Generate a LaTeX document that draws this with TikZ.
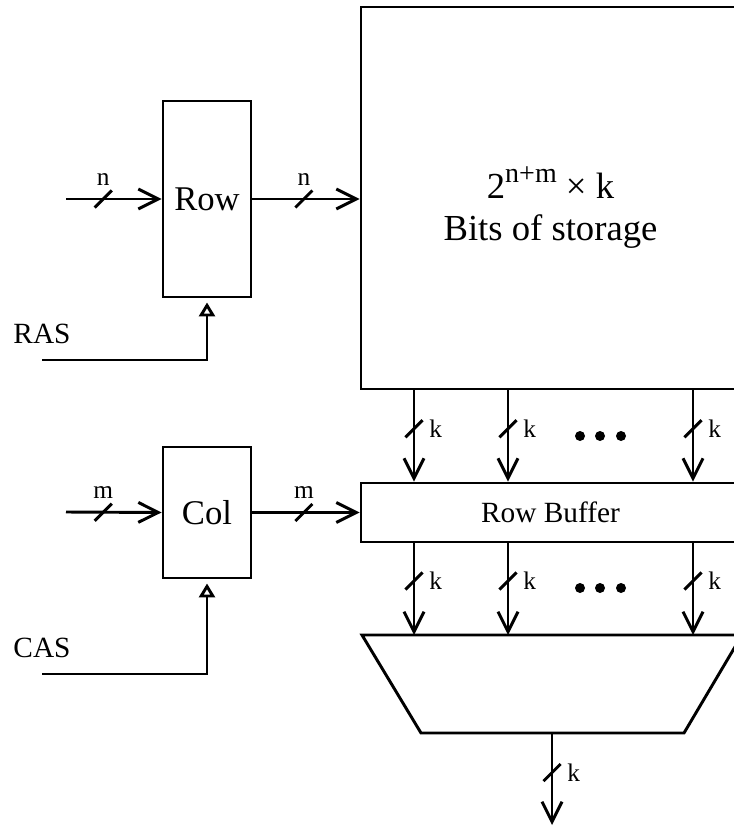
\documentclass[tikz,border=0pt]{standalone}
\usepackage{fontspec}
\setmainfont{Liberation Serif}
\usepackage{tikz}
\usetikzlibrary{arrows.meta,decorations.markings}

\begin{document}
\begin{tikzpicture}[x=0.75pt, y=-0.75pt, line width=2.2pt,
  every node/.style={font=\fontsize{19}{22}\selectfont},
  blk/.style={draw, rectangle, inner sep=0pt},
  bus/.style={-{Straight Barb[length=15pt, width=15pt]}},
  busmark/.style={postaction={decorate}, decoration={markings,
      mark=at position #1 with {\pgftransformresetnontranslations
        \draw[-] (-6.4pt,-6.4pt) -- (6.4pt,6.4pt);}}},
  ctl/.style={-{Triangle[open, length=10.5pt, width=12pt]}}]
  \useasboundingbox (0,0) rectangle (734,827);
  \clip (0,0) rectangle (734,827);
  % Memoire
  \node[blk, minimum width=284.25pt, minimum height=286.5pt,
    label={[yshift=-7pt, align=center, font=\fontsize{27.5}{31.5}\selectfont]center:%
      2\raisebox{12pt}{\fontsize{21}{21}\selectfont n+m} × k\\Bits of storage}]
    (storage) at (550.5,198) {};
  \node[blk, minimum width=284.25pt, minimum height=44.25pt,
    font=\fontsize{22}{26}\selectfont] (rowbuf) at (550.5,512.5) {Row Buffer};
  % Multiplexeur
  \coordinate (mtl) at (362,635);
  \coordinate (mtr) at (742,635);
  \coordinate (mbr) at (684,733);
  \coordinate (mbl) at (421,733);
  \coordinate (mout) at (552,733);
  \draw[line join=miter] (mtl) -- (mtr) -- (mbr) -- (mbl) -- cycle;
  % Decodeurs
  \node[blk, minimum width=66pt, minimum height=147pt,
    font=\fontsize{26}{30}\selectfont] (row) at (207,199) {Row};
  \node[blk, minimum width=66pt, minimum height=98.25pt,
    font=\fontsize{26}{30}\selectfont] (col) at (207,512.5) {Col};
  \node[font=\fontsize{22}{26}\selectfont] (ras) at (42,334) {RAS};
  \node[font=\fontsize{22}{26}\selectfont] (cas) at (42,648) {CAS};
  % Points libres
  \coordinate (rowin) at (66,199);
  \coordinate (colin) at (66,512);
  \coordinate (rasin) at (42,360);
  \coordinate (casin) at (42,674);
  \coordinate (ka) at (414,0);
  \coordinate (kb) at (508,0);
  \coordinate (kc) at (693,0);
  \coordinate (kout) at (552,825);
  % Adresses
  \draw[bus, busmark=0.39] (rowin) -- (row.west) node[pos=0.39, above=6pt]{n};
  \draw[bus, busmark=0.48] (row.east) -- (storage.west |- row.east) node[pos=0.48, above=6pt]{n};
  \draw[bus, busmark=0.39] (colin) -- (col.west) node[pos=0.39, above=6pt]{m};
  \draw[bus, busmark=0.48] (col.east) -- (rowbuf.west |- col.east) node[pos=0.48, above=6pt]{m};
  % Strobes
  \draw[ctl] (rasin) -| ([yshift=-3pt]row.south);
  \draw[ctl] (casin) -| ([yshift=-3pt]col.south);
  % Lignes de donnees
  \draw[bus, busmark=0.42] (storage.south -| ka) -- (rowbuf.north -| ka) node[pos=0.42, right=7pt]{k};
  \draw[bus, busmark=0.42] (storage.south -| kb) -- (rowbuf.north -| kb) node[pos=0.42, right=7pt]{k};
  \draw[bus, busmark=0.42] (storage.south -| kc) -- (rowbuf.north -| kc) node[pos=0.42, right=7pt]{k};
  \draw[bus, busmark=0.41] (rowbuf.south -| ka) -- (mtl -| ka) node[pos=0.41, right=7pt]{k};
  \draw[bus, busmark=0.41] (rowbuf.south -| kb) -- (mtl -| kb) node[pos=0.41, right=7pt]{k};
  \draw[bus, busmark=0.41] (rowbuf.south -| kc) -- (mtl -| kc) node[pos=0.41, right=7pt]{k};
  \draw[bus, busmark=0.43] (mout) -- (kout) node[pos=0.43, right=7pt]{k};
  % Points de suspension
  \fill (580,436) circle[radius=3.75pt];
  \fill (600,436) circle[radius=3.75pt];
  \fill (621,436) circle[radius=3.75pt];
  \fill (580,588) circle[radius=3.75pt];
  \fill (600,588) circle[radius=3.75pt];
  \fill (621,588) circle[radius=3.75pt];
\end{tikzpicture}
\end{document}
